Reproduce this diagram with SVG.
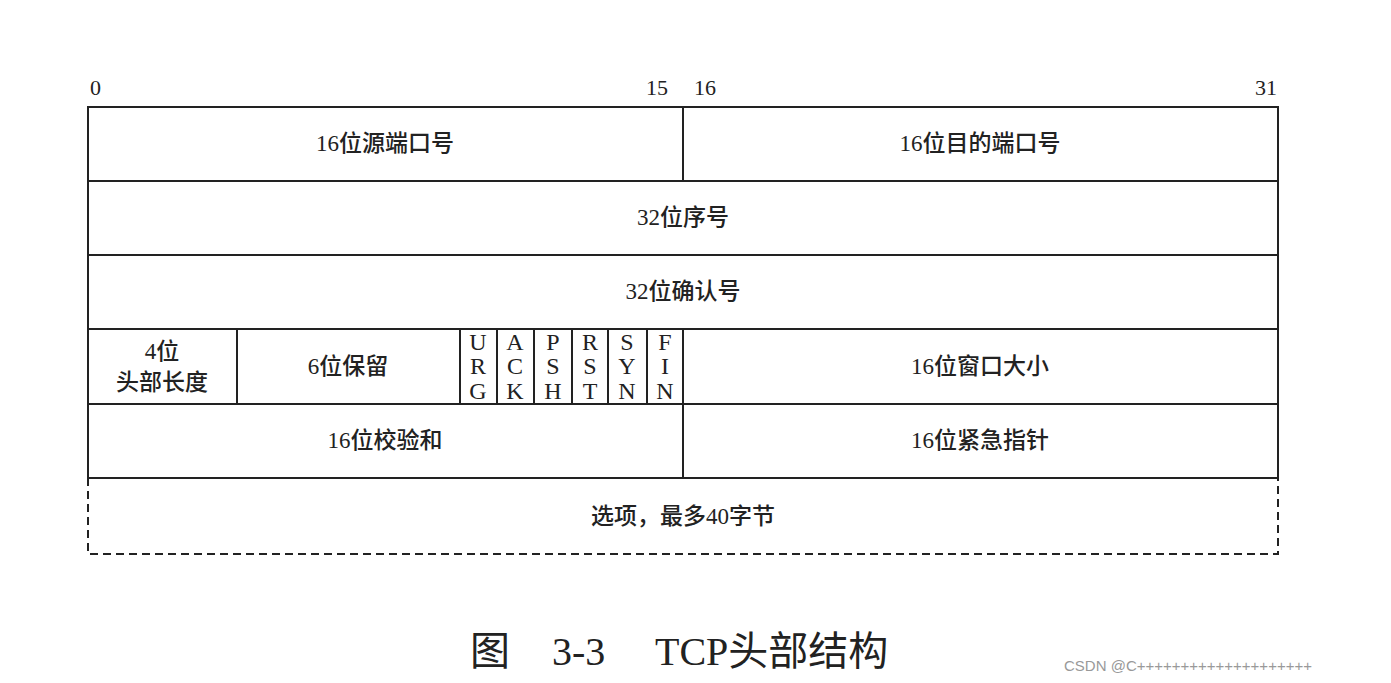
<svg xmlns="http://www.w3.org/2000/svg" width="1391" height="683" viewBox="0 0 1391 683">
<style>
.l{stroke:#222;stroke-width:2;fill:none}
.d{stroke:#222;stroke-width:2;fill:none;stroke-dasharray:8 5}
.c{font-family:"Liberation Serif","Noto Sans CJK SC",serif;font-size:23px;fill:#222;text-anchor:middle;font-weight:500}
.n{font-family:"Liberation Serif",serif;font-size:22px;fill:#222}
.f{font-family:"Liberation Serif",serif;font-size:24px;fill:#222;text-anchor:middle}
.cap{font-family:"Liberation Serif","Noto Sans CJK SC",serif;font-size:40px;fill:#222}
</style>
<rect width="1391" height="683" fill="#fff"/>
<g id="bits">
<text class="n" x="90" y="95">0</text>
<text class="n" x="646" y="95">15</text>
<text class="n" x="694" y="95">16</text>
<text class="n" x="1255" y="95">31</text>
</g>
<g id="connectors">
<rect class="l" x="88" y="107" width="1190" height="371"/>
<line class="l" x1="88" y1="181" x2="1278" y2="181"/>
<line class="l" x1="88" y1="255" x2="1278" y2="255"/>
<line class="l" x1="88" y1="329" x2="1278" y2="329"/>
<line class="l" x1="88" y1="404" x2="1278" y2="404"/>
<line class="l" x1="683" y1="107" x2="683" y2="181"/>
<line class="l" x1="683" y1="329" x2="683" y2="478"/>
<line class="l" x1="237" y1="329" x2="237" y2="404"/>
<line class="l" x1="460" y1="329" x2="460" y2="404"/>
<line class="l" x1="497" y1="329" x2="497" y2="404"/>
<line class="l" x1="534" y1="329" x2="534" y2="404"/>
<line class="l" x1="572" y1="329" x2="572" y2="404"/>
<line class="l" x1="608" y1="329" x2="608" y2="404"/>
<line class="l" x1="647" y1="329" x2="647" y2="404"/>
<path class="d" d="M88 478 V554 H1278 V478"/>
</g>
<g id="src"><text class="c" x="385" y="151">16位源端口号</text></g>
<g id="dst"><text class="c" x="980" y="151">16位目的端口号</text></g>
<g id="seq"><text class="c" x="683" y="225">32位序号</text></g>
<g id="ack"><text class="c" x="683" y="299">32位确认号</text></g>
<g id="hlen"><text class="c" x="162" y="359">4位</text><text class="c" x="162" y="390">头部长度</text></g>
<g id="rsv"><text class="c" x="348" y="374">6位保留</text></g>
<g id="flags">
<text class="f" x="478" y="350">U</text><text class="f" x="478" y="374">R</text><text class="f" x="478" y="399">G</text>
<text class="f" x="515" y="350">A</text><text class="f" x="515" y="374">C</text><text class="f" x="515" y="399">K</text>
<text class="f" x="553" y="350">P</text><text class="f" x="553" y="374">S</text><text class="f" x="553" y="399">H</text>
<text class="f" x="590" y="350">R</text><text class="f" x="590" y="374">S</text><text class="f" x="590" y="399">T</text>
<text class="f" x="627" y="350">S</text><text class="f" x="627" y="374">Y</text><text class="f" x="627" y="399">N</text>
<text class="f" x="665" y="350">F</text><text class="f" x="665" y="374">I</text><text class="f" x="665" y="399">N</text>
</g>
<g id="win"><text class="c" x="980" y="374">16位窗口大小</text></g>
<g id="chk"><text class="c" x="385" y="448">16位校验和</text></g>
<g id="urg"><text class="c" x="980" y="448">16位紧急指针</text></g>
<g id="opt"><text class="c" x="683" y="524">选项，最多40字节</text></g>
<g id="caption">
<text class="cap" x="470" y="665">图</text>
<text class="cap" x="552" y="665">3-3</text>
<text class="cap" x="655" y="665">TCP头部结构</text>
<text font-family="'Liberation Sans',sans-serif" font-size="15" fill="#999" x="1064" y="671">CSDN @C++++++++++++++++++++</text>
</g>
</svg>
